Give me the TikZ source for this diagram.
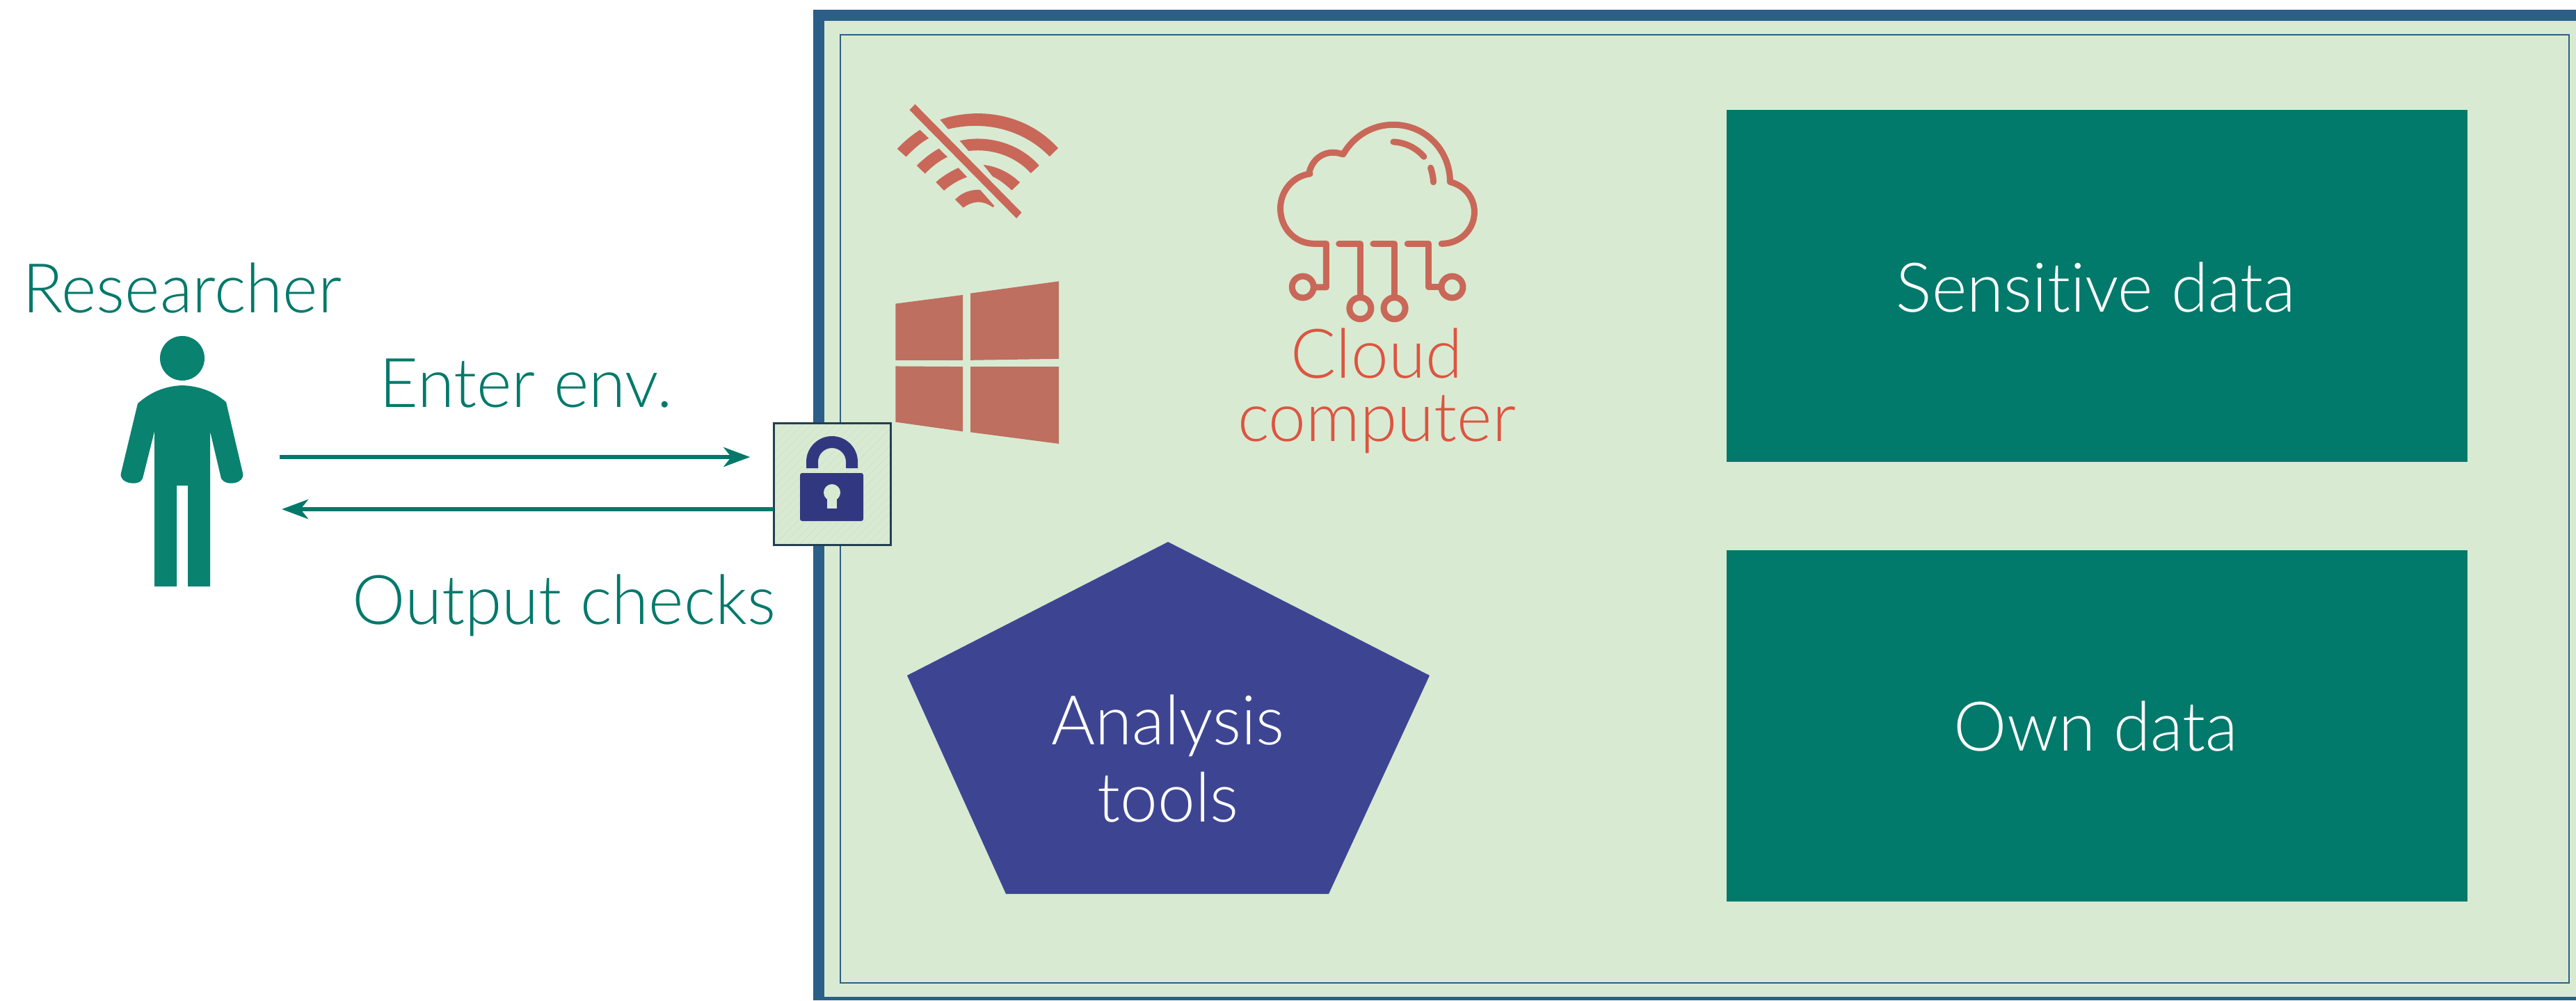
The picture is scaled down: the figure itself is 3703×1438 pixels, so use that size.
\documentclass[tikz,border=0pt]{standalone}
\usepackage{fontspec}
\setmainfont[FakeStretch=0.98,Ligatures=NoCommon]{Lato Light}
\usetikzlibrary{arrows.meta}
\definecolor{bord}{HTML}{2B5F88}
\definecolor{envbg}{HTML}{D9EAD3}
\definecolor{hatchc}{HTML}{D2E4CC}
\definecolor{tealbox}{HTML}{01796B}
\definecolor{tealtxt}{HTML}{00796B}
\definecolor{persona}{HTML}{0A8270}
\definecolor{penta}{HTML}{3D4593}
\definecolor{lockc}{HTML}{32387F}
\definecolor{lockb}{HTML}{23404F}
\definecolor{ctext}{HTML}{DD5540}
\definecolor{icon}{HTML}{C96858}
\definecolor{winc}{HTML}{BE6F5F}
\tikzset{
  x=0.01cm,y=-0.01cm,
  lbl/.style={anchor=base,inner sep=0pt,font=\fontsize{28}{34}\selectfont},
  datab/.style={fill=tealbox,draw=none},
  flow/.style={draw=tealtxt,line width=0.06cm,-{Stealth[length=0.38cm,width=0.28cm,inset=0.11cm]}},
  cloudln/.style={draw=icon,line width=0.09cm,line cap=round,line join=round}
}
\begin{document}
\begin{tikzpicture}
\useasboundingbox (0,0) rectangle (3703,1438);
% environment
\fill[bord] (1169,14) rectangle (3703,1438);
\fill[envbg] (1185,30) rectangle (3703,1433);
\draw[bord,line width=0.02cm] (1208,50) rectangle (3693,1413);
% data boxes
\path[datab] (2482,158) rectangle (3547,664);
\path[datab] (2482,791) rectangle (3547,1296);
\node[lbl,white] (sens) at (3013,448) {Sensitive data};
\node[lbl,white] (own) at (3013,1079) {Own data};
% pentagon
\fill[penta] (1679,779) -- (2055,971) -- (1910,1285) -- (1446,1285) -- (1304,971) -- cycle;
\node[lbl,white] (an) at (1679,1070) {Analysis};
\node[lbl,white] (tools) at (1679,1181) {tools};
% wifi icon
\begin{scope}[shift={(1150,0)},x=0.003333cm,y=-0.003333cm]
\fill[icon] (497,450) -- (957,918) -- (935,943) -- (473,475) -- cycle;
\fill[icon] (605,517) .. controls (770,460) and (980,490) .. (1115,640) -- (1078,676) .. controls (960,555) and (790,520) .. (640,558) -- cycle;
\fill[icon] (690,608) .. controls (810,580) and (950,620) .. (1033,715) -- (997,748) .. controls (930,675) and (830,640) .. (728,652) -- cycle;
\fill[icon] (792,712) .. controls (850,718) and (905,745) .. (950,788) -- (915,822) .. controls (885,795) and (860,775) .. (832,762) -- cycle;
\fill[icon] (670,862) .. controls (700,830) and (740,818) .. (778,820) -- (840,890) -- (832,895) .. controls (790,865) and (750,865) .. (705,897) -- cycle;
\fill[icon] (420,643) .. controls (450,610) and (485,582) .. (518,561) -- (556,597) .. controls (520,617) and (490,645) .. (458,677) -- cycle;
\fill[icon] (504,715) .. controls (530,690) and (565,660) .. (600,642) -- (637,678) .. controls (600,695) and (570,720) .. (540,750) -- cycle;
\fill[icon] (587,787) .. controls (610,765) and (650,740) .. (684,725) -- (722,765) .. controls (690,775) and (655,795) .. (622,823) -- cycle;
\end{scope}
% windows icon
\begin{scope}[shift={(1250,390)},x=0.003333cm,y=-0.003333cm]
\fill[winc] (112,140) -- (403,102) -- (403,384) -- (112,384) -- cycle;
\fill[winc] (436,95) -- (818,43) -- (818,378) -- (436,384) -- cycle;
\fill[winc] (112,410) -- (403,412) -- (403,692) -- (112,651) -- cycle;
\fill[winc] (436,412) -- (818,412) -- (818,745) -- (436,695) -- cycle;
\end{scope}
% cloud icon
\begin{scope}[shift={(1750,150)},x=0.003333cm,y=-0.003333cm]
\draw[cloudln] (525,602) -- (617,602) -- (617,835);
\draw[cloudln] (673,602) -- (765,602) -- (765,835);
\draw[cloudln] (821,602) -- (912,602) -- (912,790) -- (960,790);
\draw[cloudln] (420,790) -- (470,790) -- (470,602) -- (420,602) .. controls (330,602) and (272,530) .. (272,450) .. controls (272,375) and (325,310) .. (400,300) (396,295) .. controls (410,240) and (450,208) .. (500,208) .. controls (515,208) and (530,212) .. (543,216) .. controls (590,135) and (670,88) .. (760,88) .. controls (900,88) and (1005,200) .. (1005,335) .. controls (1065,350) and (1110,400) .. (1110,465) .. controls (1110,540) and (1050,602) .. (968,602);
\draw[cloudln] (760,162) .. controls (815,165) and (860,190) .. (892,226);
\draw[cloudln] (921,274) .. controls (928,295) and (932,315) .. (933,336);
\draw[cloudln] (369,789) circle[radius=0.155cm];
\draw[cloudln] (1014,789) circle[radius=0.155cm];
\draw[cloudln] (617,881) circle[radius=0.155cm];
\draw[cloudln] (765,881) circle[radius=0.155cm];
\end{scope}
\node[lbl,ctext] (cl) at (1979,543) {Cloud};
\node[lbl,ctext] (comp) at (1979,634) {computer};
% person
\fill[persona] (262,515) circle[radius=0.32cm];
\fill[persona] (262,554) .. controls (235,555) and (215,565) .. (198,580) -- (174,680) .. controls (170,695) and (200,700) .. (205,688) -- (222,620) -- (222,843) -- (254,843) -- (254,698) -- (270,698) -- (270,843) -- (302,843) -- (302,620) -- (318,688) .. controls (325,700) and (353,695) .. (349,680) -- (325,578) .. controls (310,565) and (290,555) .. (262,554) -- cycle;
\node[lbl,tealtxt] (res) at (262,449) {Researcher};
% lock box
\node[fill=envbg,minimum width=1.67cm,minimum height=1.74cm,inner sep=0pt] (lockbox) at (1196.5,696) {};
\begin{scope}
\clip (lockbox.south west) rectangle (lockbox.north east);
\foreach \k in {0,12,...,348} {
  \draw[hatchc,line width=0.012cm] (1113+\k,783) -- (1113+\k+174,609);
  \draw[hatchc,line width=0.012cm] (1113-\k,783) -- (1113-\k+174,609);
}
\end{scope}
\draw[lockb,line width=0.03cm] (lockbox.south west) rectangle (lockbox.north east);
\fill[lockc] (1159,673) -- (1159,664) arc[start angle=180,end angle=0,radius=0.37cm] -- (1233,673) -- (1216,673) -- (1216,664) arc[start angle=0,end angle=180,radius=0.20cm] -- (1176,673) -- cycle;
\fill[lockc,rounded corners=0.03cm] (1150,680) rectangle (1241,749);
\fill[envbg] (1196,708) circle[radius=0.12cm];
\fill[envbg] (1189,712) rectangle (1203,731);
% arrows
\coordinate (inStart) at (402,657);
\coordinate (outEnd) at (405,732);
\draw[flow,shorten >=0.34cm] (inStart) -- (lockbox.west |- inStart);
\draw[flow] (lockbox.west |- outEnd) -- (outEnd);
\node[lbl,tealtxt] (enter) at (756,585) {Enter env.};
\node[lbl,tealtxt] (outp) at (811,897) {Output checks};
\end{tikzpicture}
\end{document}
